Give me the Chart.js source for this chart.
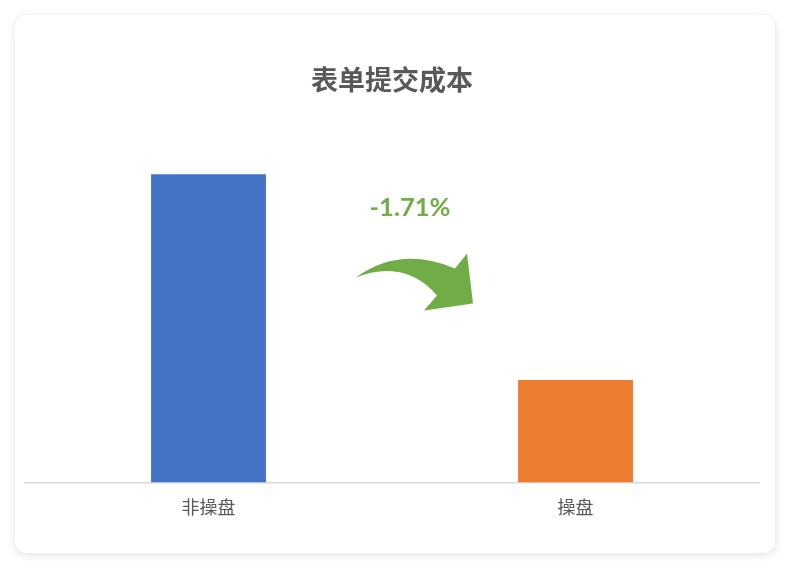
<!DOCTYPE html>
<html>
<head>
<meta charset="utf-8">
<script src="https://cdn.jsdelivr.net/npm/chart.js@4/dist/chart.umd.min.js"></script>
<style>
  html, body { margin: 0; padding: 0; background: #fff; }
  #card {
    position: absolute; left: 15px; top: 15px; width: 760px; height: 538px;
    background: #fff; border-radius: 12px;
    box-shadow: 0 2px 10px rgba(0,0,0,0.12);
    overflow: hidden;
  }
  canvas { display: block; }
</style>
</head>
<body>
<div id="card"><canvas id="c" width="760" height="538"></canvas></div>
<script>
// data
const categories = ['非操盘', '操盘'];
const costValues = [2.56, 0.85];
const barColors = ['#4472C4', '#ED7D31'];
const changeLabel = '-1.71%';

// curved green arrow + change label between the bars
const arrowPlugin = {
    id: 'arrow',
    afterDatasetsDraw(chart) {
        const { ctx, chartArea } = chart;
        const mx = chart.scales.x.getPixelForValue(0.5);
        const by = chartArea.bottom;
        const p = (dx, dy) => [mx + dx, by + dy];
        ctx.save();
        ctx.fillStyle = '#70AD47';
        ctx.beginPath();
        ctx.moveTo(...p(-36, -205));
        ctx.quadraticCurveTo(...p(8, -237), ...p(63, -214));
        ctx.lineTo(...p(75, -229));
        ctx.lineTo(...p(81, -179));
        ctx.lineTo(...p(32, -172));
        ctx.lineTo(...p(45, -187));
        ctx.quadraticCurveTo(...p(13, -224), ...p(-36, -205));
        ctx.closePath();
        ctx.fill();
        ctx.font = 'bold 25.5px Lato, "Open Sans", sans-serif';
        ctx.textAlign = 'center';
        ctx.textBaseline = 'middle';
        ctx.fillText(changeLabel, ...p(18, -275));
        ctx.restore();
    }
};

new Chart(document.getElementById('c'), {
    type: 'bar',
    data: {
        labels: categories,
        datasets: [{
            data: costValues,
            backgroundColor: barColors,
            barPercentage: 0.313,
            categoryPercentage: 1
        }]
    },
    options: {
        responsive: false,
        animation: false,
        layout: { padding: { left: 10, right: 16, top: 0, bottom: 29 } },
        scales: {
            x: {
                grid: { display: false },
                border: { color: '#d9d9d9', width: 1.5 },
                ticks: {
                    color: '#595959',
                    font: { size: 18, family: '"Noto Sans CJK SC", sans-serif' },
                    padding: 6
                }
            },
            y: {
                display: false,
                min: 0,
                max: 3
            }
        },
        plugins: {
            legend: { display: false },
            tooltip: { enabled: false },
            title: {
                display: true,
                text: '表单提交成本',
                color: '#595959',
                font: { size: 27, weight: 'bold', family: '"Noto Sans CJK SC", sans-serif' },
                padding: { top: 49, bottom: 25 }
            }
        }
    },
    plugins: [arrowPlugin]
});
</script>
</body>
</html>
